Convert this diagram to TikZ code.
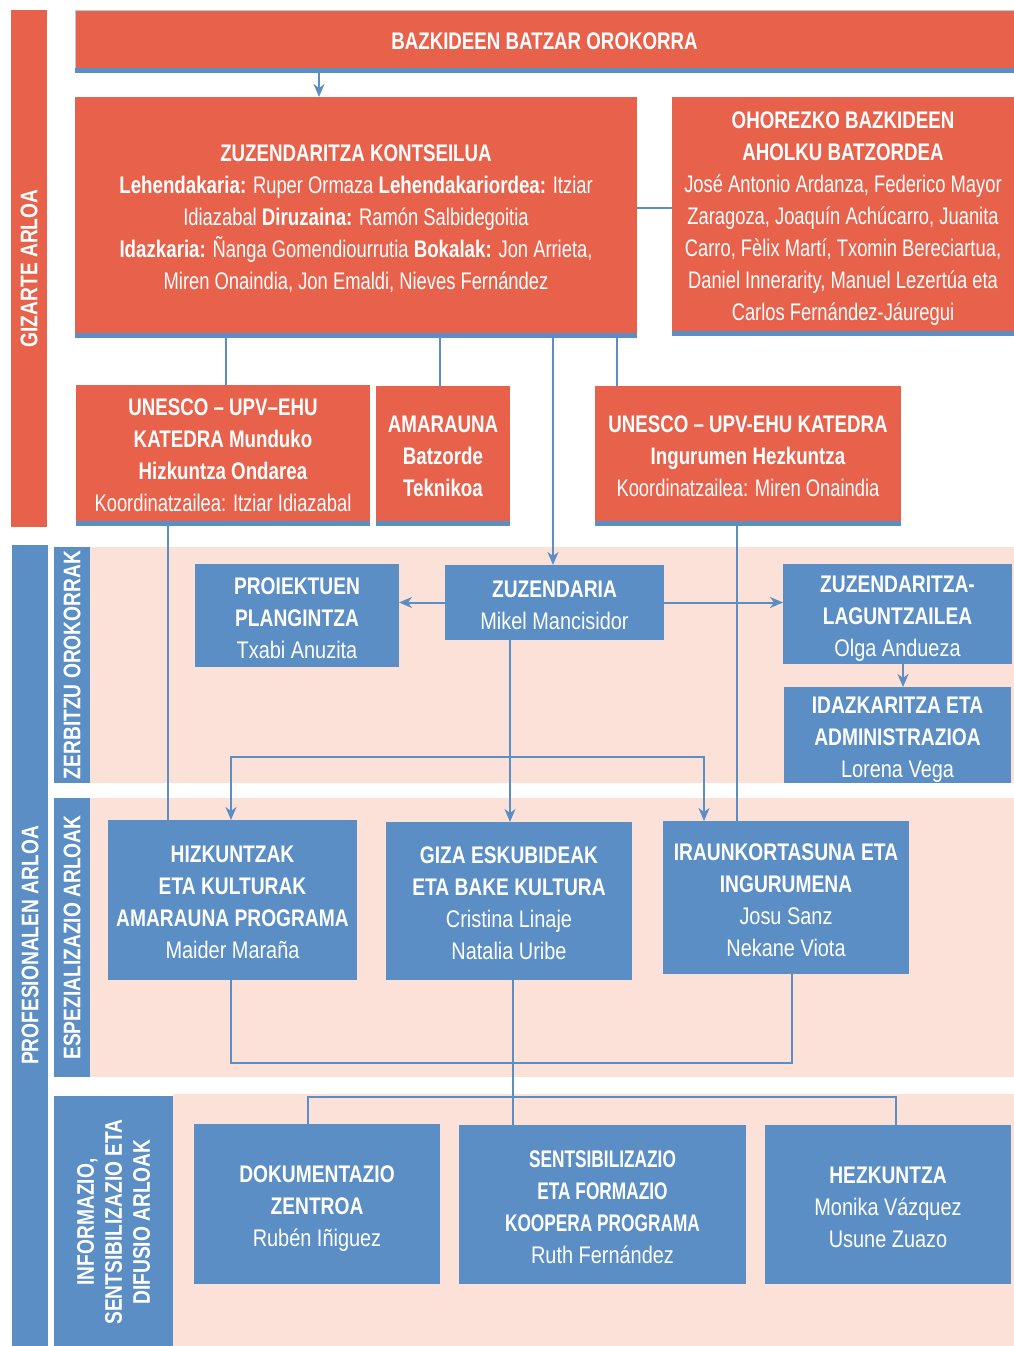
\documentclass[tikz,border=0pt]{standalone}
\usepackage{fontspec}
\setmainfont{Liberation Sans}[UprightFeatures={FakeStretch=0.83},BoldFeatures={FakeStretch=0.80}]
\newfontfamily\redfont{Liberation Sans}[UprightFeatures={FakeStretch=0.765},BoldFeatures={FakeStretch=0.78}]
\newfontfamily\sentfont{Liberation Sans}[UprightFeatures={FakeStretch=0.83},BoldFeatures={FakeStretch=0.72}]
\usetikzlibrary{arrows.meta,calc}
\definecolor{rd}{HTML}{E8614B}
\definecolor{bl}{HTML}{5C8EC6}
\definecolor{pk}{HTML}{FCE1D8}
\definecolor{lb}{HTML}{A9CCE8}
\pgfdeclarelayer{bg}\pgfdeclarelayer{mid}\pgfsetlayers{bg,mid,main}
\newcommand\tx[1]{\raisebox{-4.5pt}[\height][\depth]{\begin{tabular}{@{}c@{}}#1\end{tabular}}}
\newcommand\mybox[7]{\node[#6,minimum width={#4-#2},minimum height={#5-#3}] (#1) at ({(#2+#4)/2},{(#3+#5)/2}) {\tx{#7}};}
\newcommand\mystripe[1]{\fill[bl] (#1.south west) rectangle ([yshift=-5pt]#1.south east);}
\begin{document}
\begin{tikzpicture}[x=1pt,y=-1pt,
  box/.style={inner sep=0pt,outer sep=0pt,text=white,align=center,font=\fontsize{24}{32}\selectfont},
  redbox/.style={box,fill=rd,font=\redfont\fontsize{24}{32}\selectfont},
  bluebox/.style={box,fill=bl},
  band/.style={fill=pk},
  conn/.style={draw=bl,line width=2pt},
  arr/.style={conn,-{Stealth[length=13pt,width=11pt,inset=4pt]}},
  vlab/.style={inner sep=0pt,outer sep=0pt,text=white,align=center,rotate=90,font=\bfseries\fontsize{24}{28}\selectfont}]
\useasboundingbox (0,0) rectangle (1014,1346);
% bands
\begin{pgfonlayer}{bg}
\fill[band] (90,547) rectangle (1014,783);
\fill[band] (90,798) rectangle (1014,1077);
\fill[band] (173,1094) rectangle (1014,1346);
\end{pgfonlayer}
% side bars
\node[vlab,fill=rd,minimum width=517,minimum height=36] (gizarte) at (29,268.5) {GIZARTE ARLOA};
\node[vlab,fill=bl,minimum width=801,minimum height=36] (prof) at (30,945.5) {PROFESIONALEN ARLOA};
\node[vlab,fill=bl,minimum width=236,minimum height=36] (zerb) at (72,665) {ZERBITZU OROKORRAK};
\node[vlab,fill=bl,minimum width=279,minimum height=36] (esp) at (72,937.5) {ESPEZIALIZAZIO ARLOAK};
\node[vlab,fill=bl,minimum width=252,minimum height=119] (info) at (113.5,1222) {INFORMAZIO,\\SENTSIBILIZAZIO ETA\\DIFUSIO ARLOAK};
% red boxes
\mybox{bazk}{75}{10}{1014}{68}{redbox,draw=lb,line width=0.8pt}{\bfseries BAZKIDEEN BATZAR OROKORRA}
\mystripe{bazk}
\mybox{kont}{75}{97}{637}{333}{redbox}{\textbf{ZUZENDARITZA KONTSEILUA}\\
\textbf{Lehendakaria:} Ruper Ormaza \textbf{Lehendakariordea:} Itziar\\
Idiazabal \textbf{Diruzaina:} Ramón Salbidegoitia\\
\textbf{Idazkaria:} Ñanga Gomendiourrutia \textbf{Bokalak:} Jon Arrieta,\\
Miren Onaindia, Jon Emaldi, Nieves Fernández}
\mystripe{kont}
\mybox{ohor}{672}{97}{1014}{331}{redbox}{\textbf{OHOREZKO BAZKIDEEN}\\
\textbf{AHOLKU BATZORDEA}\\
José Antonio Ardanza, Federico Mayor\\
Zaragoza, Joaquín Achúcarro, Juanita\\
Carro, Fèlix Martí, Txomin Bereciartua,\\
Daniel Innerarity, Manuel Lezertúa eta\\
Carlos Fernández-Jáuregui}
\mystripe{ohor}
\mybox{un1}{76}{385}{370}{521}{redbox}{\textbf{UNESCO – UPV–EHU}\\
\textbf{KATEDRA Munduko}\\
\textbf{Hizkuntza Ondarea}\\
Koordinatzailea: Itziar Idiazabal}
\mystripe{un1}
\mybox{amar}{376}{386}{510}{521}{redbox}{\textbf{AMARAUNA}\\\textbf{Batzorde}\\\textbf{Teknikoa}}
\mystripe{amar}
\mybox{un2}{595}{386}{901}{521}{redbox}{\textbf{UNESCO – UPV-EHU KATEDRA}\\
\textbf{Ingurumen Hezkuntza}\\
Koordinatzailea: Miren Onaindia}
\mystripe{un2}
% blue boxes
\mybox{proi}{195}{564}{399}{667}{bluebox}{\textbf{PROIEKTUEN}\\\textbf{PLANGINTZA}\\Txabi Anuzita}
\mybox{zuz}{445}{565}{664}{640}{bluebox}{\textbf{ZUZENDARIA}\\Mikel Mancisidor}
\mybox{lag}{783}{564}{1012}{664}{bluebox}{\textbf{ZUZENDARITZA-}\\\textbf{LAGUNTZAILEA}\\Olga Andueza}
\mybox{idaz}{784}{687}{1011}{783}{bluebox}{\textbf{IDAZKARITZA ETA}\\\textbf{ADMINISTRAZIOA}\\Lorena Vega}
\mybox{hiz}{108}{820}{357}{980}{bluebox}{\textbf{HIZKUNTZAK}\\\textbf{ETA KULTURAK}\\\textbf{AMARAUNA PROGRAMA}\\Maider Maraña}
\mybox{giza}{386}{822}{632}{980}{bluebox}{\textbf{GIZA ESKUBIDEAK}\\\textbf{ETA BAKE KULTURA}\\Cristina Linaje\\Natalia Uribe}
\mybox{iraun}{663}{821}{909}{974}{bluebox}{\textbf{IRAUNKORTASUNA ETA}\\\textbf{INGURUMENA}\\Josu Sanz\\Nekane Viota}
\mybox{dok}{194}{1124}{440}{1284}{bluebox}{\textbf{DOKUMENTAZIO}\\\textbf{ZENTROA}\\Rubén Iñiguez}
\mybox{sent}{459}{1125}{746}{1284}{bluebox,font=\sentfont\fontsize{24}{32}\selectfont}{\textbf{SENTSIBILIZAZIO}\\\textbf{ETA FORMAZIO}\\\textbf{KOOPERA PROGRAMA}\\Ruth Fernández}
\mybox{hezk}{765}{1125}{1011}{1284}{bluebox}{\textbf{HEZKUNTZA}\\Monika Vázquez\\Usune Zuazo}
% junctions
\coordinate (j1) at (510,757);
\coordinate (j2) at (513,1063);
\coordinate (j3) at (513,1097);
% connectors
\begin{pgfonlayer}{mid}
\draw[arr] (bazk.south -| 319,0) -- (kont.north -| 319,0);
\draw[conn] (kont.east |- 0,208) -- (ohor.west |- 0,208);
\draw[conn] (kont.south -| 226,0) -- (un1.north -| 226,0);
\draw[conn] (kont.south -| 440,0) -- (amar.north -| 440,0);
\draw[conn] (kont.south -| 617,0) -- (un2.north -| 617,0);
\draw[arr] (kont.south -| 553,0) -- (zuz.north -| 553,0);
\draw[conn] (un1.south -| 168,0) -- (hiz.north -| 168,0);
\draw[conn] (un2.south -| 737,0) -- (iraun.north -| 737,0);
\draw[arr] (zuz.west) -- (proi.east |- zuz.west);
\draw[arr] (zuz.east) -- (lag.west |- zuz.east);
\draw[arr] (lag.south -| 903,0) -- (idaz.north -| 903,0);
\draw[arr] (zuz.south -| j1) -- (giza.north -| j1);
\draw[arr] (j1) -| (hiz.north -| 231,0);
\draw[arr] (j1) -| (iraun.north -| 704,0);
\draw[conn] (hiz.south -| 231,0) -- (j2 -| 231,0) -- (j2 -| 792,0) -- (iraun.south -| 792,0);
\draw[conn] (giza.south -| j2) -- (sent.north -| j2);
\draw[conn] (dok.north -| 308,0) -- (j3 -| 308,0) -- (j3 -| 896,0) -- (hezk.north -| 896,0);
\end{pgfonlayer}
\end{tikzpicture}
\end{document}
